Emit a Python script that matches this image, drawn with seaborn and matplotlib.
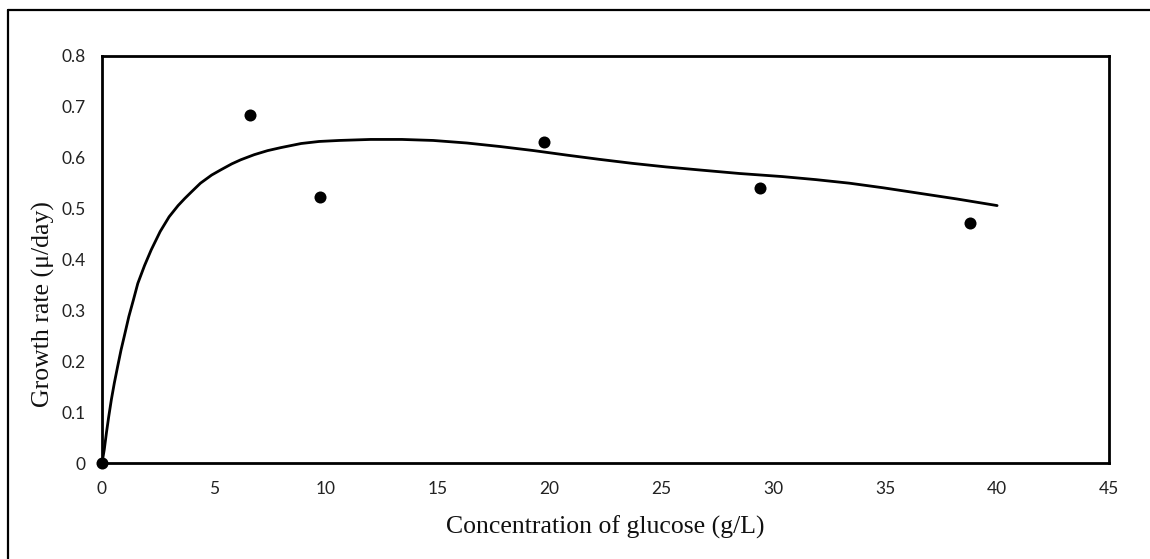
import matplotlib
matplotlib.use("Agg")
import matplotlib.pyplot as plt
import seaborn as sns
import pandas as pd
from matplotlib.lines import Line2D

# Measured data points
conc = [0.0, 6.6, 9.75, 19.75, 29.4, 38.8]
rate = [0.0, 0.684, 0.523, 0.631, 0.540, 0.472]

# Fitted curve
curve_x = [0, 0.1, 0.2, 0.3, 0.42, 0.55, 0.7, 0.85, 1.0, 1.2, 1.4, 1.6, 1.9, 2.2,
           2.6, 3.0, 3.4, 3.7, 4.0, 4.4, 4.9, 5.3, 5.8, 6.2, 6.8, 7.4, 8.0, 8.9,
           9.7, 10.6, 11.3, 12.0, 13.4, 14.8, 16.3, 17.8, 19.3, 20.8, 22.2, 23.7,
           25.2, 26.7, 28.5, 30.4, 31.9, 33.4, 34.9, 36.4, 38.2, 40.0]
curve_y = [0, 0.026, 0.060, 0.091, 0.125, 0.157, 0.190, 0.222, 0.250, 0.288,
           0.320, 0.353, 0.388, 0.419, 0.455, 0.484, 0.506, 0.520, 0.533, 0.550,
           0.566, 0.576, 0.588, 0.596, 0.606, 0.614, 0.620, 0.628, 0.632, 0.634,
           0.635, 0.636, 0.636, 0.634, 0.629, 0.622, 0.614, 0.605, 0.597, 0.589,
           0.582, 0.576, 0.569, 0.563, 0.557, 0.550, 0.541, 0.531, 0.519, 0.506]

x_ticks = [0, 5, 10, 15, 20, 25, 30, 35, 40, 45]
y_ticks = [0, 0.1, 0.2, 0.3, 0.4, 0.5, 0.6, 0.7, 0.8]
y_labels = ["0", "0.1", "0.2", "0.3", "0.4", "0.5", "0.6", "0.7", "0.8"]

sns.set_theme(style="white")
plt.rcParams["font.family"] = ["Lato", "DejaVu Sans"]

fig = plt.figure(figsize=(11.5, 5.59), dpi=100)
ax = fig.add_axes([102 / 1150, 1 - 463 / 559, (1109 - 102) / 1150, (463 - 56) / 559])

pts = pd.DataFrame({"x": conc, "y": rate})
cdf = pd.DataFrame({"x": curve_x, "y": curve_y})

sns.lineplot(data=cdf, x="x", y="y", ax=ax, color="black", linewidth=2.0,
             sort=False, estimator=None, zorder=2)
sns.scatterplot(data=pts, x="x", y="y", ax=ax, color="black", s=75,
                edgecolor="black", linewidth=0, zorder=3, clip_on=False)

ax.set_xlim(0, 45)
ax.set_ylim(0, 0.8)
ax.set_xticks(x_ticks)
ax.set_xticklabels([str(t) for t in x_ticks])
ax.set_yticks(y_ticks)
ax.set_yticklabels(y_labels)
ax.tick_params(axis="x", length=0, labelsize=12.5, colors="#222222", pad=13)
ax.tick_params(axis="y", length=0, labelsize=12.5, colors="#222222", pad=12)

for s in ax.spines.values():
    s.set_visible(True)
    s.set_color("black")
    s.set_linewidth(2.0)

ax.set_xlabel("Concentration of glucose (g/L)", family=["Liberation Serif", "DejaVu Serif"],
              fontsize=18.5, color="#111111", labelpad=13)
ax.set_ylabel("Growth rate (μ/day)", family=["Liberation Serif", "DejaVu Serif"],
              fontsize=18.5, color="#111111")
ax.yaxis.set_label_coords(-0.047, 0.39)

# outer frame (top and left edges visible)
fig.add_artist(Line2D([8 / 1150, 1.0], [1 - 10 / 559, 1 - 10 / 559],
                      transform=fig.transFigure, color="black", linewidth=1.6))
fig.add_artist(Line2D([8 / 1150, 8 / 1150], [1 - 10 / 559, 0.0],
                      transform=fig.transFigure, color="black", linewidth=1.6))

fig.savefig("out.png", dpi=100, facecolor="white")
